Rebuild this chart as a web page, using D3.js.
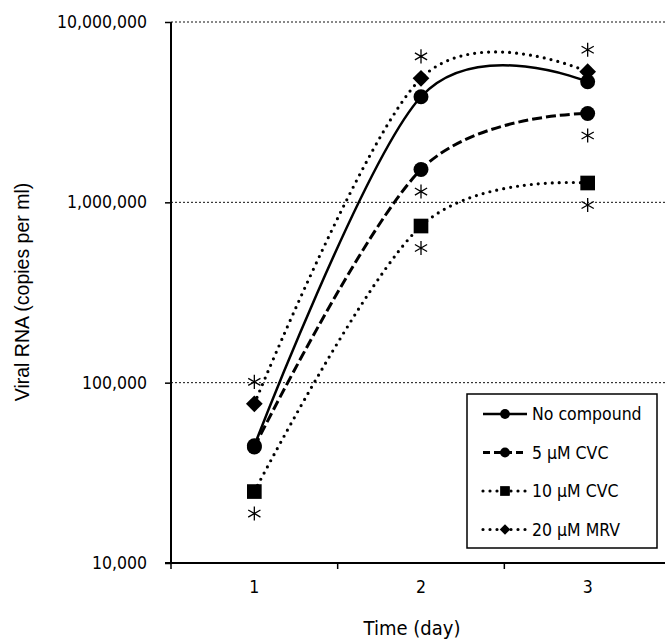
<!DOCTYPE html>
<head>
    <script src="https://d3js.org/d3.v7.min.js"></script>
    <style>
        body { margin: 0; background: #fff; }
        svg text {
            font-family: "DejaVu Sans Condensed", "DejaVu Sans", sans-serif;
            font-stretch: condensed;
            font-size: 17.5px;
            fill: #000;
        }
        svg text.ytitle {
            font-family: "Liberation Sans", Arial, sans-serif;
            font-stretch: normal;
            font-size: 19.5px;
        }
        svg text.xtitle { font-size: 20px; }
        .grid line { stroke: #111; stroke-width: 1; stroke-dasharray: 2,2; }
        .axis { stroke: #000; stroke-width: 2; fill: none; }
        .series { fill: none; stroke: #000; }
    </style>
</head>

<body>
    <script>
        // Days on the x axis
        var days = ["1", "2", "3"];

        // Viral RNA copies per ml, one array per treatment
        var noCompound = [44700, 3850000, 4660000];
        var cvc5 = [44000, 1520000, 3110000];
        var cvc10 = [24900, 739000, 1280000];
        var mrv20 = [76300, 4870000, 5300000];

        var seriesNames = ["No compound", "5 \u00b5M CVC", "10 \u00b5M CVC", "20 \u00b5M MRV"];
        var yTicks = [10000, 100000, 1000000, 10000000];

        // significance asterisks: series index, day index, above(-1)/below(+1)
        var sigSeries = [3, 2, 3, 1, 2, 3, 1, 2];
        var sigDay = [0, 0, 1, 1, 1, 2, 2, 2];
        var sigSide = [-1, 1, -1, 1, 1, -1, 1, 1];

        var width = 665, height = 639;
        var margin = { top: 22, right: -6, bottom: 76, left: 171 };

        var svg = d3.select("body").append("svg")
            .attr("width", width)
            .attr("height", height);

        var x = d3.scaleBand()
            .domain(days)
            .range([margin.left, width - margin.right]);

        var y = d3.scaleLog()
            .domain([10000, 10000000])
            .range([height - margin.bottom, margin.top]);

        var fmt = d3.format(",");

        // gridlines (dashed, every decade except the bottom)
        svg.append("g").attr("class", "grid")
            .selectAll("line")
            .data(yTicks.slice(1))
            .enter().append("line")
            .attr("x1", margin.left).attr("x2", width)
            .attr("y1", function (d) { return y(d); })
            .attr("y2", function (d) { return y(d); });

        // y axis
        var yAxis = svg.append("g")
            .attr("transform", "translate(" + margin.left + ",0)")
            .call(d3.axisLeft(y).tickValues(yTicks).tickFormat(fmt).tickSize(6).tickPadding(18));
        yAxis.select(".domain").remove();
        yAxis.attr("font-size", null).attr("font-family", null);
        yAxis.selectAll(".tick line").attr("stroke", "#000").attr("stroke-width", 1.5);

        svg.append("line").attr("class", "axis")
            .attr("x1", margin.left).attr("x2", margin.left)
            .attr("y1", y(10000000)).attr("y2", y(10000));

        // x axis
        var y0 = y(10000);
        svg.append("line").attr("class", "axis")
            .attr("x1", margin.left - 6).attr("x2", width)
            .attr("y1", y0).attr("y2", y0);

        var bounds = days.map(function (d) { return x(d); });
        bounds.push(x.range()[1]);
        svg.selectAll(".xtick")
            .data(bounds)
            .enter().append("line")
            .attr("class", "xtick")
            .attr("x1", function (d) { return d; }).attr("x2", function (d) { return d; })
            .attr("y1", y0).attr("y2", y0 + 6)
            .attr("stroke", "#000").attr("stroke-width", 1.5);

        svg.selectAll(".xlabel")
            .data(days)
            .enter().append("text")
            .attr("class", "xlabel")
            .attr("x", function (d) { return x(d) + x.bandwidth() / 2; })
            .attr("y", y0 + 24)
            .attr("dy", "0.35em")
            .attr("text-anchor", "middle")
            .text(function (d) { return d; });

        // axis titles
        svg.append("text")
            .attr("class", "xtitle")
            .attr("x", 412).attr("y", 628)
            .attr("dy", "0.35em")
            .attr("text-anchor", "middle")
            .text("Time (day)");

        svg.append("text")
            .attr("class", "ytitle")
            .attr("transform", "translate(22,292) rotate(-90)")
            .attr("dy", "0.35em")
            .attr("text-anchor", "middle")
            .text("Viral RNA (copies per ml)");

        // series
        var allSeries = [noCompound, cvc5, cvc10, mrv20];
        var dashes = ["none", "10,4", "0,7", "0,7"];
        var caps = ["butt", "butt", "round", "round"];
        var widths = [2.5, 3, 3.2, 3.2];
        var shapes = ["circle", "circle", "square", "diamond"];

        function cx(i) { return x(days[i]) + x.bandwidth() / 2; }

        var line = d3.line()
            .x(function (d, i) { return cx(i); })
            .y(function (d) { return y(d); })
            .curve(d3.curveCardinal.tension(0));

        function symbolPath(shape, big) {
            if (shape == "circle") return d3.symbol(d3.symbolCircle, big ? 175 : 75)();
            return d3.symbol(d3.symbolSquare, shape == "square" ? (big ? 215 : 95) : (big ? 140 : 55))();
        }
        function rot(shape) { return shape == "diamond" ? " rotate(45)" : ""; }

        allSeries.forEach(function (vals, s) {
            svg.append("path")
                .attr("class", "series")
                .attr("d", line(vals))
                .attr("stroke-width", widths[s])
                .attr("stroke-dasharray", dashes[s])
                .attr("stroke-linecap", caps[s]);
        });
        allSeries.forEach(function (vals, s) {
            svg.selectAll(".m" + s)
                .data(vals)
                .enter().append("path")
                .attr("class", "m" + s)
                .attr("d", symbolPath(shapes[s], true))
                .attr("transform", function (d, i) {
                    return "translate(" + cx(i) + "," + y(d) + ")" + rot(shapes[s]);
                })
                .attr("fill", "#000");
        });

        // asterisks
        var star = d3.symbol(d3.symbolAsterisk, 140);
        sigSeries.forEach(function (s, k) {
            var i = sigDay[k];
            svg.append("path")
                .attr("d", star())
                .attr("transform", "translate(" + cx(i) + "," + (y(allSeries[s][i]) + 22 * sigSide[k]) + ")")
                .attr("fill", "none")
                .attr("stroke", "#000")
                .attr("stroke-width", 1.3);
        });

        // legend
        var lg = svg.append("g").attr("transform", "translate(467,394)");
        lg.append("rect")
            .attr("width", 190).attr("height", 154)
            .attr("fill", "#fff").attr("stroke", "#000").attr("stroke-width", 1.5);

        seriesNames.forEach(function (name, s) {
            var ly = 20 + s * 38.5;
            lg.append("line")
                .attr("x1", 16).attr("x2", 60)
                .attr("y1", ly).attr("y2", ly)
                .attr("stroke", "#000")
                .attr("stroke-width", widths[s])
                .attr("stroke-dasharray", dashes[s] == "none" ? null : (s == 1 ? "7,4" : "0,7"))
                .attr("stroke-linecap", caps[s]);
            lg.append("path")
                .attr("d", symbolPath(shapes[s], false))
                .attr("transform", "translate(38," + ly + ")" + rot(shapes[s]))
                .attr("fill", "#000");
            lg.append("text")
                .attr("x", 65).attr("y", ly)
                .attr("dy", "0.35em")
                .text(name);
        });
    </script>
</body>
